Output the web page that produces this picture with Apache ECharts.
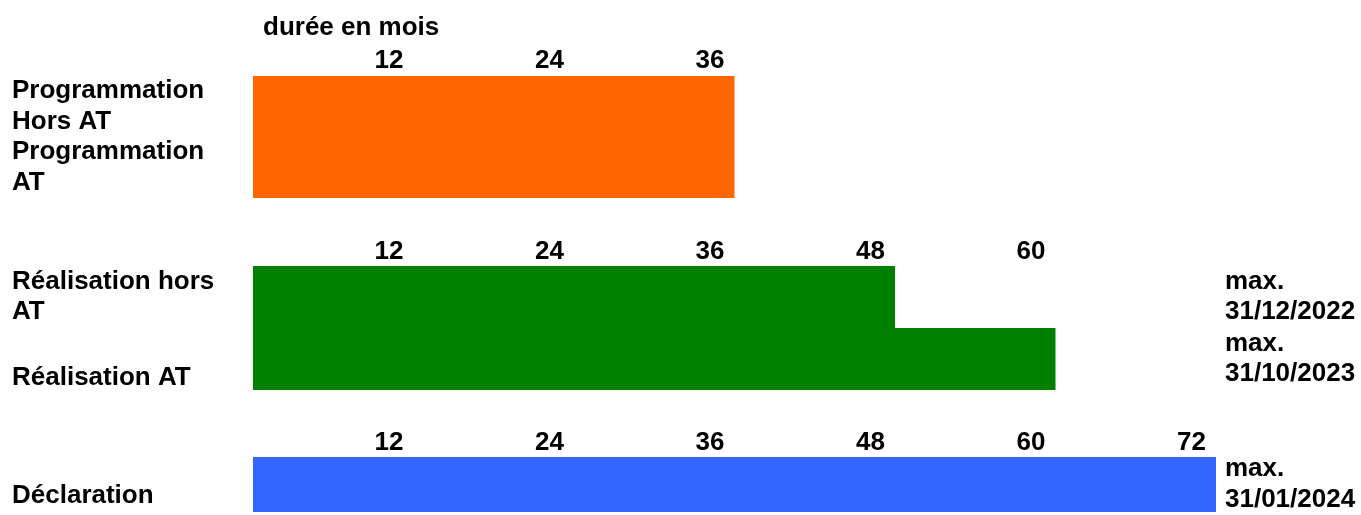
<!DOCTYPE html>
<html>
<head>
<meta charset="utf-8">
<script src="https://cdn.jsdelivr.net/npm/echarts@6/dist/echarts.min.js"></script>
<style>
html,body{margin:0;padding:0;background:#fff;}
#chart{width:1361px;height:515px;}
</style>
</head>
<body>
<div id="chart"></div>
<script>
// ---- data ----
const axisTitle = 'durée en mois';
const progLabels = ['Programmation\nHors AT', 'Programmation\nAT'];
const progValues = [36, 36];
const progDeadlines = ['', ''];
const realLabels = ['Réalisation hors\nAT', 'Réalisation AT'];
const realValues = [48, 60];
const realDeadlines = ['max.\n31/12/2022', 'max.\n31/10/2023'];
const declLabels = ['Déclaration'];
const declValues = [72];
const declDeadlines = ['max.\n31/01/2024'];
const tickStep = 12;
const axisMax = 72;
const tickLimits = [36, 60, 72];
const colors = ['#FF6600', '#008000', '#3366FF'];

// ---- layout ----
const FONT = '"Liberation Sans", Arial, sans-serif';
const FS = 26;
const LH = 30.5;
const gridDefs = [
  {top: 76, height: 122, labelMargin: 2.5},
  {top: 266, height: 124, labelMargin: 1},
  {top: 457, height: 62, labelMargin: 1.5}
];
const shiftPad = {'Réalisation AT': 38, 'Déclaration': 22};

const blocks = [
  {labels: progLabels, values: progValues, deadlines: progDeadlines},
  {labels: realLabels, values: realValues, deadlines: realDeadlines},
  {labels: declLabels, values: declValues, deadlines: declDeadlines}
];

const chart = echarts.init(document.getElementById('chart'));
const grid = [], xAxis = [], yAxis = [], series = [];
const baseText = {fontFamily: FONT, fontSize: FS, fontWeight: 'bold', color: '#000'};

blocks.forEach((b, i) => {
  const g = gridDefs[i];
  grid.push({left: 253, width: 963, top: g.top, height: g.height, containLabel: false});
  const lim = tickLimits[i];
  xAxis.push({
    type: 'value', gridIndex: i, position: 'top', min: 0, max: axisMax, interval: tickStep,
    axisLine: {show: false}, axisTick: {show: false}, splitLine: {show: false},
    axisLabel: Object.assign({}, baseText, {
      margin: g.labelMargin, align: 'right', padding: [0, 10, 0, 0],
      showMinLabel: true, showMaxLabel: true,
      formatter: v => (v > 0 && v <= lim) ? String(v) : ''
    })
  });
  yAxis.push({
    type: 'category', gridIndex: i, inverse: true, data: b.labels,
    axisLine: {show: false}, axisTick: {show: false}, splitLine: {show: false},
    axisLabel: Object.assign({}, baseText, {
      margin: 241, align: 'left', interval: 0, lineHeight: LH,
      formatter: v => shiftPad[v] ? '{s' + shiftPad[v] + '|' + v + '}' : v,
      rich: {
        s38: Object.assign({}, baseText, {lineHeight: LH, padding: [38, 0, 0, 0]}),
        s22: Object.assign({}, baseText, {lineHeight: LH, padding: [22, 0, 0, 0]})
      }
    })
  });
  yAxis.push({
    type: 'category', gridIndex: i, inverse: true, position: 'right', data: b.deadlines,
    axisLine: {show: false}, axisTick: {show: false}, splitLine: {show: false},
    axisLabel: Object.assign({}, baseText, {margin: 9, align: 'left', interval: 0, lineHeight: LH})
  });
  series.push({
    type: 'bar', xAxisIndex: i, yAxisIndex: i * 2, data: b.values,
    barCategoryGap: '0%',
    itemStyle: {color: colors[i]},
    silent: true, animation: false
  });
});

chart.setOption({
  backgroundColor: '#fff',
  animation: false,
  title: {
    text: axisTitle, left: 263, top: 15, padding: 0,
    textStyle: Object.assign({}, baseText)
  },
  grid, xAxis, yAxis, series
});
</script>
</body>
</html>
